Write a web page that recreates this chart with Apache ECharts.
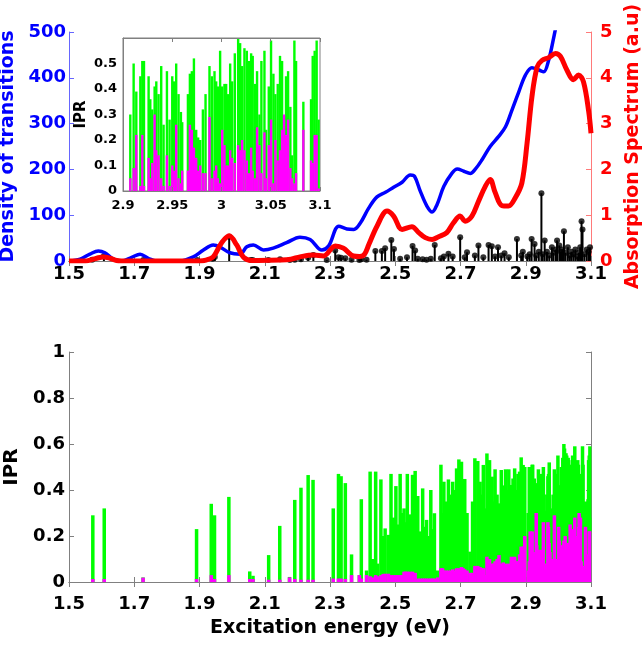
<!DOCTYPE html>
<html><head><meta charset="utf-8">
<script src="https://cdn.jsdelivr.net/npm/echarts@6/dist/echarts.min.js"></script>
<style>html,body{margin:0;padding:0;background:#fff}#c{width:644px;height:645px}</style>
</head><body><div id="c"></div>
<script>
// ---------- tick labels ----------
const xTicks = [1.5,1.7,1.9,2.1,2.3,2.5,2.7,2.9,3.1];
const insetTicks = [2.9,2.95,3,3.05,3.1];
const insetYTicks = [0,0.1,0.2,0.3,0.4,0.5];

// ---------- density of transitions (blue, left axis) ----------
const dosE = [1.50,1.534,1.564,1.59,1.61,1.636,1.662,1.692,1.718,1.743,1.768,1.84,1.881,1.912,1.942,1.962,1.993,2.024,2.045,2.065,2.096,2.126,2.167,2.208,2.239,2.275,2.296,2.327,2.352,2.373,2.393,2.419,2.444,2.470,2.495,2.521,2.546,2.559,2.577,2.597,2.613,2.628,2.649,2.674,2.690,2.710,2.730,2.746,2.766,2.791,2.817,2.838,2.858,2.879,2.899,2.919,2.940,2.955,2.970,2.986,3.00,3.03,3.06,3.10];
const dosV = [0,4,15,22,18,4,0,8,15,6,0,0,9,24,35,31,18,15,31,35,24,28,40,52,47,24,33,76,70,69,83,116,140,150,161,172,188,185,152,120,107,123,163,192,201,196,191,201,221,250,272,293,330,370,406,422,417,413,438,489,540,680,800,900];

// ---------- absorption spectrum (red, right axis) ----------
const absE = [1.50,1.55,1.565,1.585,1.605,1.626,1.646,1.66,1.90,1.92,1.942,1.967,1.991,2.014,2.035,2.06,2.08,2.15,2.18,2.208,2.249,2.280,2.316,2.341,2.372,2.39,2.405,2.419,2.444,2.475,2.495,2.521,2.551,2.572,2.592,2.613,2.633,2.658,2.678,2.699,2.714,2.735,2.755,2.776,2.791,2.806,2.827,2.847,2.868,2.888,2.904,2.919,2.935,2.950,2.970,2.991,3.006,3.026,3.046,3.062,3.077,3.093,3.10];
const absV = [0,0,0.02,0.06,0.09,0.06,0.01,0,0,0.02,0.09,0.39,0.55,0.35,0.08,0.01,0.01,0.02,0.04,0.09,0.13,0.11,0.33,0.28,0.11,0.10,0.14,0.36,0.76,1.09,0.98,0.69,0.75,0.62,0.51,0.47,0.53,0.62,0.83,0.98,0.87,0.98,1.30,1.63,1.78,1.50,1.21,1.20,1.38,1.70,2.57,3.59,4.24,4.38,4.44,4.53,4.47,4.17,3.96,4.06,3.91,3.26,2.79];

// ---------- oscillator strengths (black stems, right axis) ----------
const stemE = [1.571,1.607,1.728,1.893,1.940,1.947,1.991,2.057,2.063,2.111,2.147,2.177,2.192,2.211,2.233,2.249,2.290,2.316,2.326,2.334,2.347,2.366,2.390,2.396,2.412,2.439,2.459,2.469,2.488,2.496,2.515,2.536,2.553,2.561,2.569,2.584,2.596,2.609,2.621,2.640,2.649,2.663,2.676,2.699,2.713,2.720,2.744,2.755,2.770,2.786,2.796,2.806,2.815,2.825,2.835,2.848,2.873,2.886,2.891,2.905,2.912,2.918,2.927,2.932,2.940,2.948,2.952,2.958,2.965,2.972,2.980,2.985,2.992,2.996,3.003,3.008,3.012,3.017,3.022,3.029,3.035,3.040,3.046,3.052,3.058,3.063,3.067,3.071,3.074,3.080,3.087,3.093,3.097];
const stemF = [0.03,0.11,0.02,0.02,0.05,0.09,0.53,0.02,0.02,0.02,0.04,0.02,0.03,0.04,0.07,0.13,0.02,0.23,0.08,0.07,0.06,0.03,0.02,0.04,0.03,0.22,0.22,0.28,0.46,0.26,0.05,0.08,0.33,0.23,0.05,0.04,0.03,0.05,0.35,0.06,0.10,0.16,0.10,0.52,0.08,0.19,0.12,0.34,0.08,0.35,0.32,0.10,0.30,0.12,0.17,0.08,0.48,0.12,0.20,0.10,0.15,0.48,0.37,0.12,0.20,1.48,0.15,0.45,0.20,0.12,0.30,0.18,0.25,0.45,0.34,0.20,0.25,0.65,0.18,0.30,0.12,0.20,0.15,0.25,0.10,0.18,0.30,0.87,0.69,0.15,0.25,0.20,0.30];

// ---------- IPR per transition (green = total, magenta = partial) ----------
const iprE = [1.573,1.608,1.727,1.891,1.936,1.946,1.990,2.054,2.064,2.112,2.146,2.176,2.192,2.211,2.233,2.248,2.310,2.326,2.334,2.347,2.366,2.390,2.396,2.412,2.423,2.430,2.440,2.446,2.456,2.463,2.469,2.479,2.487,2.495,2.502,2.508,2.515,2.521,2.527,2.532,2.537,2.545,2.553,2.561,2.569,2.577,2.584,2.590,2.596,2.603,2.609,2.615,2.620,2.630,2.640,2.645,2.649,2.656,2.663,2.670,2.676,2.682,2.688,2.695,2.703,2.708,2.713,2.720,2.729,2.737,2.744,2.753,2.760,2.766,2.770,2.776,2.781,2.789,2.797,2.802,2.806,2.812,2.818,2.825,2.831,2.838,2.843,2.848,2.856,2.861,2.866,2.871,2.876,2.881,2.886,2.892,2.897,
2.9074,2.9108,2.9135,2.9176,2.9196,2.9213,2.9260,2.9277,2.9297,2.9321,2.9338,2.9361,2.9388,2.9412,2.9446,2.9473,2.9500,2.9517,2.9540,2.9564,2.9588,2.9601,2.9659,2.9679,2.9699,2.9720,2.9743,2.9763,2.9784,2.9811,2.9838,2.9878,2.9902,2.9929,2.9946,2.9963,2.9986,3.0007,3.0030,3.0047,3.0064,3.0088,3.0108,3.0135,3.0169,3.0189,3.0209,3.0233,3.0257,3.0277,3.0301,3.0317,3.0341,3.0361,3.0385,3.0405,3.0436,3.0453,3.0480,3.0503,3.0527,3.0547,3.0571,3.0594,3.0615,3.0635,3.0655,3.0676,3.0699,3.0716,3.0740,3.0757,3.0831,3.0909,3.0926,3.0946,3.0966,3.0986];
const iprTotal = [0.29,0.32,0.02,0.23,0.34,0.29,0.37,0.046,0.027,0.117,0.244,0.022,0.357,0.41,0.465,0.444,0.32,0.47,0.46,0.43,0.12,0.03,0.36,0.05,0.48,0.10,0.48,0.08,0.446,0.20,0.233,0.205,0.47,0.28,0.417,0.25,0.47,0.30,0.32,0.26,0.47,0.294,0.466,0.483,0.374,0.22,0.407,0.24,0.27,0.20,0.40,0.23,0.299,0.05,0.51,0.30,0.436,0.35,0.446,0.38,0.436,0.40,0.494,0.533,0.523,0.40,0.448,0.30,0.132,0.35,0.538,0.526,0.436,0.38,0.509,0.32,0.559,0.53,0.458,0.35,0.49,0.38,0.342,0.487,0.42,0.49,0.40,0.49,0.422,0.45,0.494,0.40,0.47,0.48,0.542,0.509,0.50,
0.30,0.50,0.39,0.45,0.51,0.51,0.45,0.36,0.32,0.41,0.43,0.38,0.49,0.26,0.47,0.28,0.45,0.43,0.50,0.38,0.31,0.27,0.38,0.46,0.47,0.52,0.24,0.21,0.20,0.32,0.38,0.49,0.45,0.47,0.43,0.41,0.55,0.41,0.42,0.42,0.38,0.50,0.43,0.54,0.60,0.58,0.49,0.56,0.55,0.51,0.54,0.53,0.42,0.47,0.30,0.51,0.55,0.24,0.41,0.59,0.46,0.38,0.42,0.53,0.51,0.24,0.45,0.47,0.33,0.14,0.59,0.51,0.35,0.36,0.53,0.55,0.59,0.28];
const iprPart = [0.013,0.013,0.019,0.013,0.03,0.013,0.03,0.013,0.013,0.01,0.01,0.02,0.013,0.01,0.01,0.01,0.015,0.015,0.015,0.013,0.03,0.03,0.015,0.03,0.025,0.02,0.03,0.025,0.03,0.035,0.036,0.036,0.03,0.03,0.03,0.03,0.03,0.03,0.045,0.045,0.045,0.045,0.045,0.04,0.015,0.015,0.015,0.015,0.015,0.015,0.015,0.015,0.015,0.02,0.06,0.06,0.05,0.05,0.05,0.05,0.055,0.05,0.06,0.06,0.065,0.06,0.055,0.05,0.04,0.04,0.07,0.07,0.065,0.06,0.06,0.03,0.11,0.10,0.08,0.08,0.09,0.10,0.117,0.08,0.085,0.08,0.07,0.08,0.11,0.10,0.11,0.09,0.09,0.12,0.154,0.154,0.20,
0.05,0.09,0.22,0.02,0.22,0.02,0.13,0.05,0.11,0.30,0.16,0.14,0.05,0.02,0.14,0.02,0.10,0.08,0.26,0.05,0.03,0.08,0.08,0.26,0.24,0.17,0.13,0.08,0.10,0.07,0.07,0.29,0.05,0.08,0.10,0.05,0.03,0.24,0.18,0.10,0.10,0.16,0.13,0.11,0.18,0.16,0.20,0.16,0.12,0.07,0.17,0.08,0.05,0.25,0.18,0.07,0.23,0.05,0.18,0.28,0.03,0.20,0.12,0.16,0.24,0.30,0.22,0.28,0.09,0.05,0.03,0.07,0.24,0.12,0.11,0.22,0.22,0.01];

// ---------- build series data ----------
const zip = (a, b) => a.map((v, i) => [v, b[i]]);
const dosData = zip(dosE, dosV);
const absData = zip(absE, absV);
const stemData = zip(stemE, stemF);
const greenData = zip(iprE, iprTotal);
const magData = zip(iprE, iprPart);
const insetGreen = greenData.filter(d => d[0] >= 2.9);
const insetMag = magData.filter(d => d[0] >= 2.9);

const FONT = 'DejaVu Sans';
const lbl = (size, color, margin, extra) => Object.assign({
  fontFamily: FONT, fontWeight: 'bold', fontSize: size, color: color, margin: margin
}, extra || {});
const line = c => ({ show: true, lineStyle: { color: c, width: 1 } });
const tick = (c, len, vals) => {
  const t = { show: true, inside: true, length: len, lineStyle: { color: c, width: 1 } };
  if (vals) t.customValues = vals;
  return t;
};
const GRAY = '#808080';

const chart = echarts.init(document.getElementById('c'), null, { renderer: 'canvas' });
chart.setOption({
  animation: false,
  backgroundColor: '#fff',
  grid: [
    { left: 69, top: 32, width: 522, height: 229, outerBoundsMode: 'none', containLabel: false },
    { left: 69, top: 352, width: 522, height: 230, outerBoundsMode: 'none', containLabel: false },
    { left: 123, top: 38, width: 197, height: 153, show: true, backgroundColor: '#fff',
      borderColor: GRAY, borderWidth: 1, z: 10, outerBoundsMode: 'none', containLabel: false }
  ],
  xAxis: [
    { gridIndex: 0, type: 'value', min: 1.5, max: 3.1, axisLine: line('#222'),
      axisTick: tick(GRAY, 5, xTicks), splitLine: { show: false },
      axisLabel: lbl(18, '#000', 4, { customValues: xTicks }) },
    { gridIndex: 0, type: 'value', position: 'top', min: 1.5, max: 3.1, axisLine: line(GRAY),
      axisTick: tick(GRAY, 5, xTicks), splitLine: { show: false }, axisLabel: { show: false } },
    { gridIndex: 1, type: 'value', min: 1.5, max: 3.1, axisLine: line(GRAY),
      axisTick: tick(GRAY, 5, xTicks), splitLine: { show: false },
      axisLabel: lbl(18, '#000', 13, { customValues: xTicks }),
      name: 'Excitation energy (eV)', nameLocation: 'middle', nameGap: 37,
      nameTextStyle: { fontFamily: FONT, fontWeight: 'bold', fontSize: 19, color: '#000' } },
    { gridIndex: 1, type: 'value', position: 'top', min: 1.5, max: 3.1, axisLine: line(GRAY),
      axisTick: tick(GRAY, 5, xTicks), splitLine: { show: false }, axisLabel: { show: false } },
    { gridIndex: 2, type: 'value', min: 2.9, max: 3.1, z: 12, axisLine: line(GRAY),
      axisTick: tick(GRAY, 4, insetTicks), splitLine: { show: false },
      axisLabel: lbl(13, '#000', 8, { customValues: insetTicks }) },
    { gridIndex: 2, type: 'value', position: 'top', min: 2.9, max: 3.1, z: 12, axisLine: line(GRAY),
      axisTick: tick(GRAY, 4, insetTicks), splitLine: { show: false }, axisLabel: { show: false } }
  ],
  yAxis: [
    { gridIndex: 0, type: 'value', min: 0, max: 500, interval: 100, axisLine: line('#6666ff'),
      axisTick: tick('#6666ff', 5), splitLine: { show: false },
      axisLabel: lbl(18, '#0000ff', 3),
      name: 'Density of transitions', nameLocation: 'middle', nameGap: 48,
      nameTextStyle: { fontFamily: FONT, fontWeight: 'bold', fontSize: 19, color: '#0000ff' } },
    { gridIndex: 0, type: 'value', position: 'right', min: 0, max: 5, interval: 1, axisLine: line('#ff7a7a'),
      axisTick: tick('#ff7a7a', 5), splitLine: { show: false },
      axisLabel: lbl(18, '#ff0000', 9),
      name: 'Absorption Spectrum (a.u)', nameLocation: 'middle', nameGap: 28,
      nameTextStyle: { fontFamily: FONT, fontWeight: 'bold', fontSize: 19, color: '#ff0000' } },
    { gridIndex: 1, type: 'value', min: 0, max: 1, interval: 0.2, axisLine: line(GRAY),
      axisTick: tick(GRAY, 5), splitLine: { show: false },
      axisLabel: lbl(18, '#000', 4),
      name: 'IPR', nameLocation: 'middle', nameGap: 42,
      nameTextStyle: { fontFamily: FONT, fontWeight: 'bold', fontSize: 20, color: '#000' } },
    { gridIndex: 1, type: 'value', position: 'right', min: 0, max: 1, interval: 0.2, axisLine: line(GRAY),
      axisTick: tick(GRAY, 5), splitLine: { show: false }, axisLabel: { show: false } },
    { gridIndex: 2, type: 'value', min: 0, max: 0.6, interval: 0.1, z: 12, axisLine: line(GRAY),
      axisTick: { show: false }, splitLine: { show: false },
      axisLabel: lbl(13, '#000', 6, { customValues: insetYTicks }),
      name: 'IPR', nameLocation: 'middle', nameGap: 34,
      nameTextStyle: { fontFamily: FONT, fontWeight: 'bold', fontSize: 15, color: '#000' } }
  ],
  series: [
    { type: 'line', xAxisIndex: 0, yAxisIndex: 0, data: dosData, smooth: 0.35, showSymbol: false,
      clip: true, lineStyle: { color: '#0000ff', width: 3.5 } },
    { type: 'line', xAxisIndex: 0, yAxisIndex: 1, data: absData, smooth: 0.35, showSymbol: false,
      clip: true, lineStyle: { color: '#ff0000', width: 5 } },
    { type: 'bar', xAxisIndex: 0, yAxisIndex: 1, data: stemData, barWidth: 2,
      itemStyle: { color: '#000' } },
    { type: 'scatter', xAxisIndex: 0, yAxisIndex: 1, data: stemData, symbolSize: 6,
      itemStyle: { color: '#000' } },
    { type: 'bar', xAxisIndex: 2, yAxisIndex: 2, data: greenData, barWidth: 3.5, barGap: '-100%',
      itemStyle: { color: '#00ff00' } },
    { type: 'bar', xAxisIndex: 2, yAxisIndex: 2, data: magData, barWidth: 3.5, barGap: '-100%',
      itemStyle: { color: '#ff00ff' } },
    { type: 'bar', xAxisIndex: 4, yAxisIndex: 4, data: insetGreen, barWidth: 2.4, barGap: '-100%', z: 11,
      itemStyle: { color: '#00ff00' } },
    { type: 'bar', xAxisIndex: 4, yAxisIndex: 4, data: insetMag, barWidth: 2.4, barGap: '-100%', z: 11,
      itemStyle: { color: '#ff00ff' } }
  ]
});
</script></body></html>
